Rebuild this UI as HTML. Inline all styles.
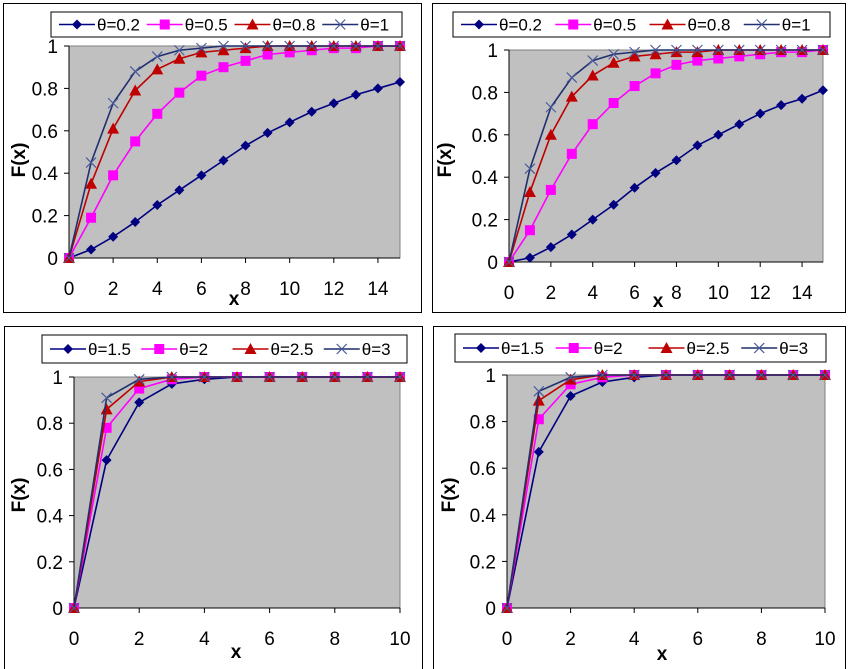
<!DOCTYPE html>
<html><head><meta charset="utf-8"><style>
html,body{margin:0;padding:0;background:#fff;width:850px;height:669px;overflow:hidden}
svg{display:block}
text{font-family:"Liberation Sans",sans-serif}
</style></head><body>
<svg id="root" width="850" height="669" viewBox="0 0 850 669"></svg>
<script>
const NS="http://www.w3.org/2000/svg";
// ---- data ----
const xTop=[0,1,2,3,4,5,6,7,8,9,10,11,12,13,14,15];
const xBot=[0,1,2,3,4,5,6,7,8,9,10];
const thetaTop=["θ=0.2","θ=0.5","θ=0.8","θ=1"];
const thetaBot=["θ=1.5","θ=2","θ=2.5","θ=3"];
const tl02=[0,0.04,0.10,0.17,0.25,0.32,0.39,0.46,0.53,0.59,0.64,0.69,0.73,0.77,0.80,0.83];
const tl05=[0,0.19,0.39,0.55,0.68,0.78,0.86,0.90,0.93,0.96,0.97,0.98,0.99,0.99,1,1];
const tl08=[0,0.35,0.61,0.79,0.89,0.94,0.97,0.98,0.99,1,1,1,1,1,1,1];
const tl1=[0,0.45,0.73,0.88,0.95,0.98,0.99,1,1,1,1,1,1,1,1,1];
const tr02=[0,0.02,0.07,0.13,0.20,0.27,0.35,0.42,0.48,0.55,0.60,0.65,0.70,0.74,0.77,0.81];
const tr05=[0,0.15,0.34,0.51,0.65,0.75,0.83,0.89,0.93,0.95,0.96,0.97,0.98,0.99,0.99,1];
const tr08=[0,0.33,0.60,0.78,0.88,0.94,0.97,0.98,0.99,0.99,1,1,1,1,1,1];
const tr1=[0,0.44,0.73,0.87,0.95,0.98,0.99,1,1,1,1,1,1,1,1,1];
const bl15=[0,0.64,0.89,0.97,0.99,1,1,1,1,1,1];
const bl2=[0,0.78,0.95,0.99,1,1,1,1,1,1,1];
const bl25=[0,0.86,0.98,1,1,1,1,1,1,1,1];
const bl3=[0,0.91,0.99,1,1,1,1,1,1,1,1];
const br15=[0,0.67,0.91,0.97,0.99,1,1,1,1,1,1];
const br2=[0,0.81,0.96,0.99,1,1,1,1,1,1,1];
const br25=[0,0.89,0.98,1,1,1,1,1,1,1,1];
const br3=[0,0.93,0.99,1,1,1,1,1,1,1,1];
const yTicks=["0","0.2","0.4","0.6","0.8","1"];
const xTicksTop=["0","2","4","6","8","10","12","14"];
const xTicksBot=["0","2","4","6","8","10"];

const colors=["#000080","#FF00FF","#C00000","#1F2F6F"];
const markers=["diamond","square","triangle","x"];

function el(tag,attrs,parent){const e=document.createElementNS(NS,tag);for(const k in attrs)e.setAttribute(k,attrs[k]);parent.appendChild(e);return e;}

function marker(g,type,cx,cy,c){
  let m;
  if(type==="diamond") m=el("polygon",{points:`${cx},${cy-5} ${cx+5},${cy} ${cx},${cy+5} ${cx-5},${cy}`,fill:c},g);
  else if(type==="square") m=el("rect",{x:cx-5,y:cy-5,width:10,height:10,fill:c},g);
  else if(type==="triangle") m=el("polygon",{points:`${cx},${cy-6} ${cx+6},${cy+5} ${cx-6},${cy+5}`,fill:c},g);
  else { m=el("path",{d:`M${cx-5} ${cy-5}L${cx+5} ${cy+5}M${cx+5} ${cy-5}L${cx-5} ${cy+5}`,stroke:"#4A5A9A","stroke-width":1.2,fill:"none"},g);}
  return m;
}

function chart(cfg){
  const root=document.getElementById("root");
  const g=el("g",{},root);
  
  
  const f=el("rect",{x:cfg.frame[0],y:cfg.frame[1],width:cfg.frame[2],height:cfg.frame[3],fill:"#fff",stroke:"#000","stroke-width":1},g);
  
  
  const [px0,py0,px1,py1]=cfg.plot;
  const xs=v=>px0+(v-cfg.xmin)/(cfg.xmax-cfg.xmin)*(px1-px0);
  const ys=v=>py1-v*(py1-py0);
  const pa=el("rect",{x:px0,y:py0,width:px1-px0,height:py1-py0,fill:"#C0C0C0",stroke:"#808080","stroke-width":1},g);
  
  
  el("line",{x1:px0,y1:py0,x2:px0,y2:py1,stroke:"#000"},g);
  el("line",{x1:px0,y1:py1,x2:px1,y2:py1,stroke:"#000"},g);
  yTicks.forEach((t,i)=>{const v=i*0.2,y=ys(v);
    el("line",{x1:px0-5,y1:y,x2:px0,y2:y,stroke:"#000"},g);
    const tx=el("text",{x:px0-11,y:y+7,"text-anchor":"end","font-size":19},g);tx.textContent=t;
    
    
  });
  cfg.xt.forEach(t=>{const x=xs(+t);
    el("line",{x1:x,y1:py1,x2:x,y2:py1+5,stroke:"#000"},g);
    const tx=el("text",{x:x,y:py1+37,"text-anchor":"middle","font-size":19},g);tx.textContent=t;
    
    
  });
  const xl=el("text",{x:cfg.xl[0],y:cfg.xl[1],"text-anchor":"middle","font-size":19,"font-weight":"bold"},g);xl.textContent="x";
  
  
  const yl=el("text",{x:0,y:0,"text-anchor":"middle","font-size":19,"font-weight":"bold",transform:`translate(${cfg.yl[0]},${cfg.yl[1]}) rotate(-90)`},g);yl.textContent="F(x)";
  
  
  cfg.series.forEach((s,k)=>{
    const sg=el("g",{},g);
    
    
    const pts=cfg.x.map((xv,i)=>`${xs(xv)},${ys(s[i])}`).join(" ");
    el("polyline",{points:pts,fill:"none",stroke:colors[k],"stroke-width":1.6},sg);
    cfg.x.forEach((xv,i)=>{const m=marker(sg,markers[k],xs(xv),ys(s[i]),colors[k]);
      
      });
  });
  const [lx,ly,lw,lh]=cfg.leg;
  const lg=el("g",{},g);
  
  
  el("rect",{x:lx,y:ly,width:lw,height:lh,fill:"#fff",stroke:"#000"},lg);
  const step=lw/4;
  cfg.labels.forEach((lab,k)=>{
    const ex=lx+8+k*step, cy=ly+lh/2;
    const eg=el("g",{},lg);
    
    
    el("line",{x1:ex,y1:cy,x2:ex+36,y2:cy,stroke:colors[k],"stroke-width":1.6},eg);
    marker(eg,markers[k],ex+18,cy,colors[k]);
    const t=el("text",{x:ex+38,y:cy+6,"font-size":17},eg);t.textContent=lab;
  });
}
chart({name:"chart-top-left",frame:[3.5,3.5,418,309],plot:[69,46,400,258],xmin:0,xmax:15,x:xTop,xt:xTicksTop,
  series:[tl02,tl05,tl08,tl1],labels:thetaTop,leg:[51,12,351,25],xl:[234,305],yl:[25,160]});
chart({name:"chart-top-right",frame:[432.5,3.5,413,309],plot:[509,50,823,262],xmin:0,xmax:15,x:xTop,xt:xTicksTop,
  series:[tr02,tr05,tr08,tr1],labels:thetaTop,leg:[453,12,377,25],xl:[658,307],yl:[451,160]});
chart({name:"chart-bottom-left",frame:[4.5,326.5,418,345],plot:[74,377,400,608],xmin:0,xmax:10,x:xBot,xt:xTicksBot,
  series:[bl15,bl2,bl25,bl3],labels:thetaBot,leg:[42,335,365,28],xl:[236,658],yl:[25,495]});
chart({name:"chart-bottom-right",frame:[433.5,326.5,412,345],plot:[507,375,825,608],xmin:0,xmax:10,x:xBot,xt:xTicksBot,
  series:[br15,br2,br25,br3],labels:thetaBot,leg:[455,334,371,28],xl:[662,660],yl:[455,495]});
</script>
</body></html>
